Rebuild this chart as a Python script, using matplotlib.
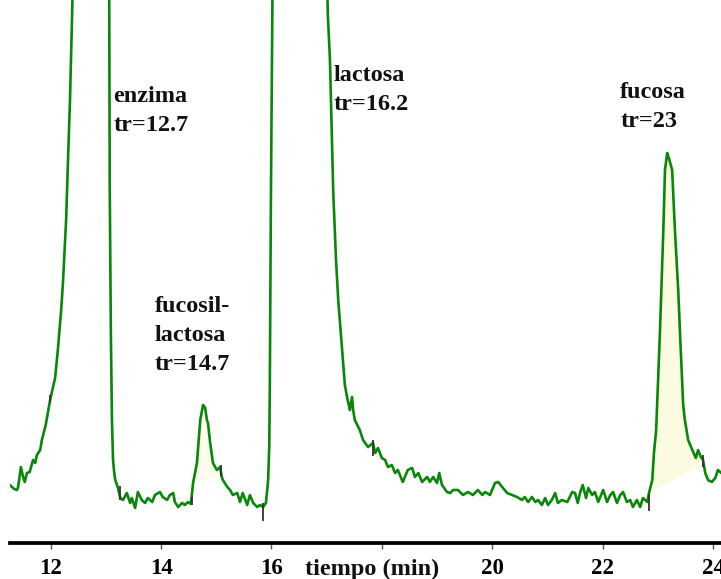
import numpy as np
import matplotlib
matplotlib.use("Agg")
import matplotlib.pyplot as plt

# Cromatograma: tiempo (min) y respuesta del detector (unidades arbitrarias)
tiempo = [
    11.26, 11.34, 11.39, 11.41, 11.46, 11.50, 11.53, 11.57, 11.62, 11.68,
    11.72, 11.75, 11.81, 11.84, 11.91, 11.99, 12.08, 12.13, 12.19, 12.22,
    12.28, 12.31, 12.35, 12.39, 12.70,
    13.06, 13.07, 13.09, 13.11, 13.13, 13.15, 13.17, 13.22, 13.26, 13.31,
    13.38, 13.44, 13.47, 13.53, 13.58, 13.65, 13.71, 13.76, 13.84, 13.89,
    13.98, 14.03, 14.11, 14.16, 14.22, 14.25, 14.31, 14.38, 14.43, 14.49,
    14.54, 14.58, 14.65, 14.71, 14.76, 14.80, 14.83, 14.85, 14.89, 14.94,
    15.01, 15.07, 15.10, 15.12, 15.20, 15.25, 15.30, 15.38, 15.43, 15.48,
    15.56, 15.61, 15.67, 15.74, 15.79, 15.85, 15.90, 15.94, 15.96, 15.97,
    15.99, 16.01, 16.02, 16.20,
    17.01, 17.02, 17.06, 17.12, 17.17, 17.21, 17.28, 17.33, 17.37, 17.42,
    17.46, 17.48, 17.51, 17.60, 17.66, 17.75, 17.84, 17.88, 17.93, 18.00,
    18.06, 18.11, 18.18, 18.24, 18.29, 18.38, 18.47, 18.55, 18.60, 18.66,
    18.73, 18.82, 18.87, 18.93, 19.00, 19.04, 19.09, 19.18, 19.24, 19.29,
    19.38, 19.47, 19.56, 19.65, 19.74, 19.82, 19.87, 19.96, 20.05, 20.11,
    20.18, 20.27, 20.36, 20.45, 20.54, 20.59, 20.65, 20.72, 20.78, 20.83,
    20.90, 20.96, 21.01, 21.08, 21.14, 21.19, 21.26, 21.36, 21.45, 21.50,
    21.55, 21.59, 21.64, 21.70, 21.74, 21.81, 21.86, 21.92, 22.01, 22.08,
    22.14, 22.19, 22.26, 22.32, 22.37, 22.44, 22.50, 22.55, 22.62, 22.68,
    22.73, 22.81, 22.84, 22.90, 22.93, 22.97, 23.04, 23.10, 23.13, 23.17,
    23.20, 23.26, 23.31, 23.37, 23.40, 23.46, 23.49, 23.55, 23.64, 23.69,
    23.73, 23.78, 23.82, 23.86, 23.91, 23.98, 24.04, 24.09, 24.15,
]
senal = [
    58, 54, 53, 56, 76, 66, 61, 70, 71, 83,
    80, 88, 93, 103, 118, 143, 165, 193, 233, 258,
    323, 376, 443, 530, 1400,
    560, 356, 213, 123, 83, 71, 63, 55, 45, 43,
    50, 40, 45, 35, 51, 43, 40, 45, 41, 48,
    51, 46, 43, 48, 50, 41, 36, 40, 38, 41,
    39, 60, 80, 123, 138, 135, 123, 120, 100, 80,
    73, 76, 66, 63, 56, 53, 48, 50, 41, 50,
    38, 48, 40, 36, 38, 36, 40, 63, 96, 153,
    343, 483, 560, 1600,
    560, 530, 483, 350, 283, 243, 193, 158, 146, 133,
    146, 133, 123, 113, 103, 96, 100, 90, 95, 85,
    83, 76, 78, 70, 73, 61, 73, 75, 66, 70,
    61, 66, 61, 66, 60, 70, 58, 51, 50, 53,
    53, 48, 51, 48, 53, 48, 51, 48, 60, 61,
    56, 50, 48, 46, 43, 46, 41, 46, 41, 43,
    38, 45, 38, 43, 50, 40, 43, 41, 51, 50,
    40, 50, 58, 45, 55, 48, 51, 41, 53, 41,
    48, 51, 40, 48, 51, 41, 43, 36, 43, 36,
    45, 41, 50, 63, 90, 113, 213, 313, 373, 390,
    385, 373, 313, 253, 213, 138, 123, 103, 91, 85,
    93, 86, 83, 70, 63, 61, 65, 73, 70,
]

# Marcas del integrador (inicio / fin de pico)
marca_t = [11.99, 13.26, 14.56, 15.09, 15.85, 17.84, 22.84, 23.82]
marca_ini = [141, 43, 38, 67, 22, 87, 32, 76]
marca_fin = [148, 57, 46, 78, 40, 103, 49, 88]

# Lineas base de integracion de los picos pequenos
base_fucosil_t = [14.58, 15.01]
base_fucosil_s = [60, 68]
base_fucosa_t = [22.84, 23.82]
base_fucosa_s = [51, 80]

# Etiquetas de los picos: texto, tiempo del borde izquierdo, senal de la ultima linea
etiquetas = ["enzima\ntr=12.7", "fucosil-\nlactosa\ntr=14.7",
             "lactosa\ntr=16.2", "fucosa\ntr=23"]
etiq_t = [13.14, 13.89, 17.13, 22.32]
etiq_s = [412, 173, 433, 416]

ticks = [12, 14, 16, 18, 20, 22, 24]
tick_labels = ["12", "14", "16", "", "20", "22", "24"]

serif = ["Liberation Serif", "DejaVu Serif"]

fig = plt.figure(figsize=(7.21, 5.79), dpi=100)
ax = fig.add_axes([10 / 721, 36 / 579, 711 / 721, 543 / 579])

t = np.array(tiempo, dtype=float)
s = np.array(senal, dtype=float)

# areas integradas (relleno amarillo palido)
for bt, bs, col in [(base_fucosil_t, base_fucosil_s, "#fdfdee"),
                    (base_fucosa_t, base_fucosa_s, "#fbfbe1")]:
    mask = (t >= bt[0]) & (t <= bt[1])
    base = np.interp(t, bt, bs)
    ax.fill_between(t, base, s, where=mask, color=col, lw=0, zorder=1)

ax.plot(t, s, color="#0a870a", lw=1.9, zorder=3, solid_joinstyle="round")
ax.vlines(marca_t, marca_ini, marca_fin, color="#333333", lw=1.3, zorder=4)

for txt, x, y in zip(etiquetas, etiq_t, etiq_s):
    ax.text(x, y, txt, family=serif, fontweight="bold", fontsize=17.5,
            va="baseline", ha="left", linespacing=1.5, color="#111111")

ax.set_xlim(11.263, 24.145)
ax.set_ylim(0, 543)
ax.set_yticks([])
for side in ["left", "right", "top"]:
    ax.spines[side].set_visible(False)
ax.spines["bottom"].set_linewidth(2.7)
ax.spines["bottom"].set_color("black")

ax.set_xticks(ticks)
ax.set_xticklabels(tick_labels, family=serif, fontweight="bold", fontsize=16.5)
ax.tick_params(axis="x", direction="out", length=4.5, width=1.0,
               color="#555555", pad=6)

ax.text(17.83, -0.059, "tiempo (min)", transform=ax.get_xaxis_transform(),
        family=serif, fontweight="bold", fontsize=17.5, ha="center",
        va="baseline", color="#111111", clip_on=False)

fig.savefig("out.png", dpi=100)
